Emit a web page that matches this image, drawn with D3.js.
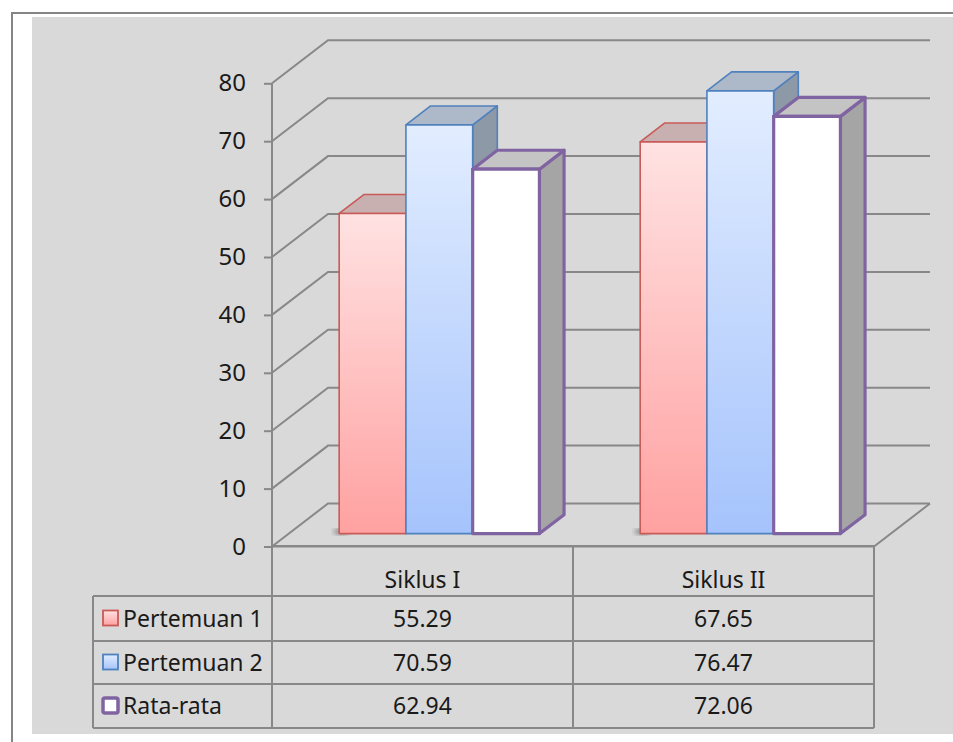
<!DOCTYPE html>
<meta charset="utf-8">
<html>
<body style="margin:0;background:#fff">
<script src="https://cdn.jsdelivr.net/npm/d3@7"></script>
<script>
// chart data
var categories = ["Siklus I", "Siklus II"];
var seriesNames = ["Pertemuan 1", "Pertemuan 2", "Rata-rata"];
var pertemuan1 = [55.29, 67.65];
var pertemuan2 = [70.59, 76.47];
var rataRata = [62.94, 72.06];
var yTicks = [0, 10, 20, 30, 40, 50, 60, 70, 80];

var values = [pertemuan1, pertemuan2, rataRata];

// look of each series: front gradient, top, side, stroke
var looks = [
  { id: "g0", top: "#ffe2e2", bottom: "#ffa1a1", lid: "#c9b0b0", side: "#b39a9a", stroke: "#c95a57", sw: 1.6 },
  { id: "g1", top: "#e2edff", bottom: "#a5c3fc", lid: "#adb9c9", side: "#8e99a7", stroke: "#4f81bd", sw: 1.6 },
  { id: "g2", top: "#ffffff", bottom: "#ffffff", lid: "#c4c4c4", side: "#a5a5a5", stroke: "#8064a2", sw: 3.2 }
];

var W = 953, H = 742;
var svg = d3.select("body").append("svg")
    .attr("width", W).attr("height", H)
    .style("display", "block");

var font = "'Noto Sans', 'DejaVu Sans', sans-serif";
var gridColor = "#888888";

// frame + gray plot area
svg.append("rect").attr("x", 12).attr("y", 13).attr("width", W + 10).attr("height", H + 10)
    .attr("fill", "#fff").attr("stroke", "#858585").attr("stroke-width", 2);
svg.append("rect").attr("x", 32).attr("y", 17).attr("width", W).attr("height", 717)
    .attr("fill", "#d9d9d9");

// scales
var y = d3.scaleLinear().domain([0, 80]).range([546.5, 83.3]);
var x = d3.scaleBand().domain(categories).range([272, 874]);
var xs = d3.scaleBand().domain(seriesNames).range([0, x.bandwidth()])
    .paddingInner(0).paddingOuter(0.755);

// oblique depth
var depthX = 56, depthY = -43;
var barFront = 0.3, barDepth = 0.44;
function P(px, py, d) { return [px + d * depthX, py + d * depthY]; }

var defs = svg.append("defs");
looks.forEach(function (l) {
  var g = defs.append("linearGradient").attr("id", l.id)
      .attr("x1", 0).attr("y1", 0).attr("x2", 0).attr("y2", 1);
  g.append("stop").attr("offset", "0%").attr("stop-color", l.top);
  g.append("stop").attr("offset", "100%").attr("stop-color", l.bottom);
});
defs.append("filter").attr("id", "blur").append("feGaussianBlur").attr("stdDeviation", 2.5);

var x0 = 272, x1 = 874;

// walls: side-wall diagonals and back gridlines
var grid = svg.append("g").attr("stroke", gridColor).attr("stroke-width", 2).attr("fill", "none");
yTicks.forEach(function (v) {
  var a = [x0, y(v)], b = P(x0, y(v), 1), c = P(x1, y(v), 1);
  grid.append("path").attr("d", d3.line()([a, b, c]));
});
// floor edges
grid.append("path").attr("d", d3.line()([P(x1, y(0), 1), [x1, y(0)], [x0, y(0)]]));

// bars
var bars = svg.append("g");
categories.forEach(function (cat, ci) {
  seriesNames.forEach(function (s, si) {
    var l = looks[si];
    var v = values[si][ci];
    var bx0 = x(cat) + xs(s), bx1 = bx0 + xs.bandwidth();
    var yb = y(0), yt = y(v);
    var fl = P(bx0, yb, barFront), fr = P(bx1, yb, barFront);
    var tl = P(bx0, yt, barFront), tr = P(bx1, yt, barFront);
    var bd = barFront + barDepth;
    var btl = P(bx0, yt, bd), btr = P(bx1, yt, bd), bbr = P(bx1, yb, bd);
    // little shadow
    bars.append("ellipse").attr("cx", fl[0] + 2).attr("cy", fl[1] - 2).attr("rx", 8).attr("ry", 3)
        .attr("fill", "#555").attr("opacity", si === 0 ? 0.6 : 0).attr("filter", "url(#blur)");
    var g = bars.append("g").attr("stroke", l.stroke).attr("stroke-width", l.sw)
        .attr("stroke-linejoin", "round");
    g.append("path").attr("d", d3.line()([tr, btr, bbr, fr]) + "Z").attr("fill", l.side);
    g.append("path").attr("d", d3.line()([tl, btl, btr, tr]) + "Z").attr("fill", l.lid);
    g.append("rect").attr("x", tl[0]).attr("y", tl[1]).attr("width", bx1 - bx0).attr("height", fl[1] - tl[1])
        .attr("fill", "url(#" + l.id + ")");
  });
});

// y axis
var axis = svg.append("g").attr("transform", "translate(" + x0 + ",0)")
    .call(d3.axisLeft(y).tickValues(yTicks).tickSize(8).tickPadding(18).tickFormat(d3.format("d")));
axis.select(".domain").remove();
axis.selectAll("line").attr("stroke", gridColor).attr("stroke-width", 2);
axis.selectAll("text").attr("fill", "#1a1a1a").style("font-family", font).style("font-size", "24px");
svg.append("line").attr("x1", x0).attr("x2", x0).attr("y1", y(80)).attr("y2", 728)
    .attr("stroke", gridColor).attr("stroke-width", 2);

// data table
var rowY = [546, 596, 641, 684, 728];
var colX = [93, x0, x(categories[1]), x1];
var tbl = svg.append("g").attr("stroke", gridColor).attr("stroke-width", 2);
tbl.append("line").attr("x1", x0).attr("x2", x1).attr("y1", rowY[0]).attr("y2", rowY[0]);
rowY.slice(1).forEach(function (ry) {
  tbl.append("line").attr("x1", colX[0]).attr("x2", x1).attr("y1", ry).attr("y2", ry);
});
tbl.append("line").attr("x1", colX[0]).attr("x2", colX[0]).attr("y1", rowY[1]).attr("y2", rowY[4]);
[colX[2], colX[3]].forEach(function (cx) {
  tbl.append("line").attr("x1", cx).attr("x2", cx).attr("y1", rowY[0]).attr("y2", rowY[4]);
});

var txt = svg.append("g").style("font-family", font).style("font-size", "23px").attr("fill", "#1a1a1a");
categories.forEach(function (cat) {
  txt.append("text").attr("x", x(cat) + x.bandwidth() / 2).attr("y", 588)
      .attr("text-anchor", "middle").text(cat);
});
seriesNames.forEach(function (s, si) {
  var cy = (rowY[si + 1] + rowY[si + 2]) / 2;
  var l = looks[si];
  txt.append("rect").attr("x", 103).attr("y", cy - 8).attr("width", 15).attr("height", 15)
      .attr("rx", si === 2 ? 2 : 0)
      .attr("fill", "url(#" + l.id + ")").attr("stroke", l.stroke).attr("stroke-width", si === 2 ? 3.5 : 1.8);
  txt.append("text").attr("x", 123).attr("y", cy).attr("dy", "0.35em").text(s);
  categories.forEach(function (cat, ci) {
    txt.append("text").attr("x", x(cat) + x.bandwidth() / 2).attr("y", cy).attr("dy", "0.35em")
        .attr("text-anchor", "middle").text(values[si][ci].toFixed(2));
  });
});
</script>
</body>
</html>
